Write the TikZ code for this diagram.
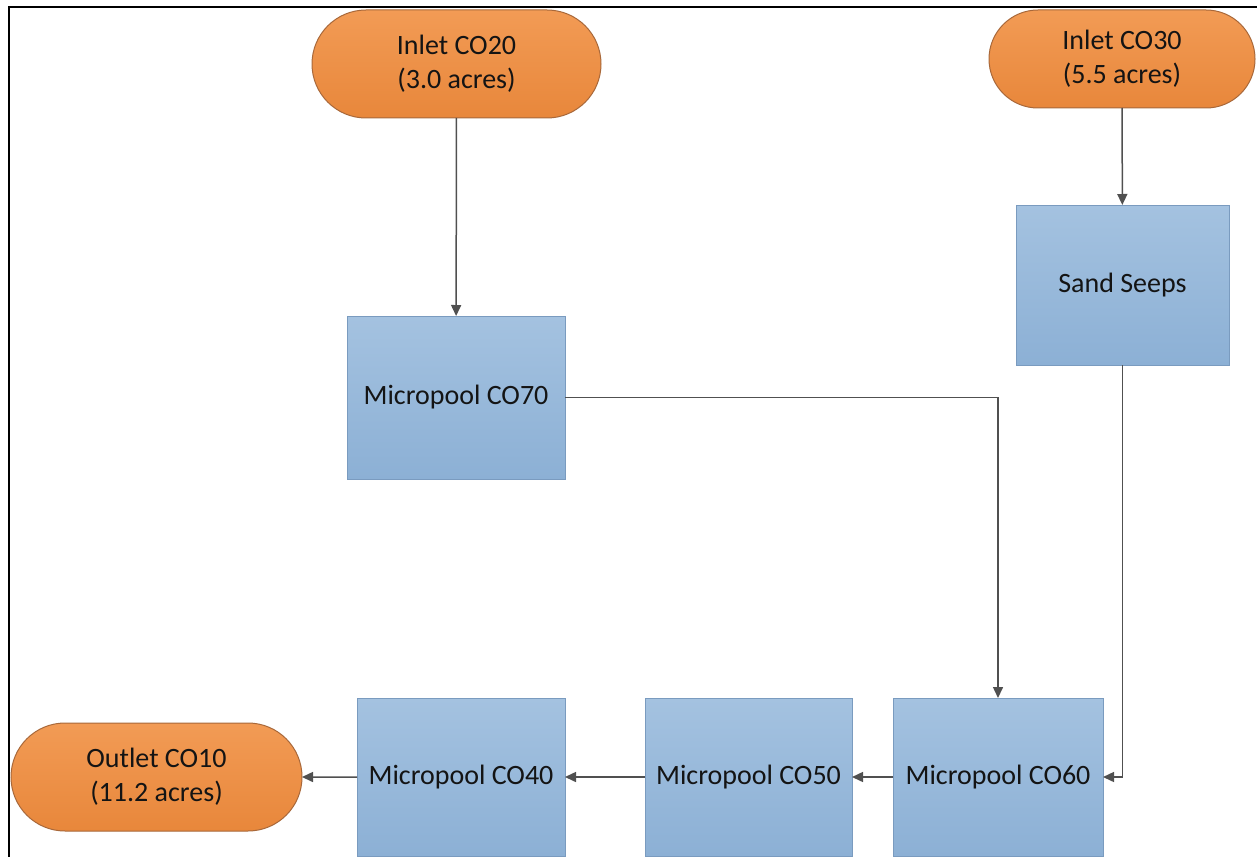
\documentclass[tikz,border=0pt]{standalone}
\usepackage{fontspec}
\setmainfont{Carlito}
\usetikzlibrary{shapes.misc,arrows.meta}
\definecolor{orangetop}{HTML}{F29B55}
\definecolor{orangebot}{HTML}{E8873B}
\definecolor{orangeedge}{HTML}{A8683A}
\definecolor{bluetop}{HTML}{A4C2E0}
\definecolor{bluebot}{HTML}{8CB0D5}
\definecolor{blueedge}{HTML}{7A9BBF}
\definecolor{linkcol}{HTML}{505050}
\definecolor{txt}{HTML}{141414}
\tikzset{
  terminal/.style={rounded rectangle, draw=orangeedge, line width=1pt,
    top color=orangetop, bottom color=orangebot, inner sep=0pt, outer sep=0pt,
    align=center, text=txt, font=\fontsize{28}{34}\selectfont},
  procbox/.style={rectangle, draw=blueedge, line width=1pt,
    top color=bluetop, bottom color=bluebot, inner sep=0pt, outer sep=0pt,
    align=center, text=txt, font=\fontsize{28}{34}\selectfont},
  link/.style={draw=linkcol, line width=1.5pt,
    -{Triangle[length=11pt,width=10pt]}}
}
\begin{document}
\begin{tikzpicture}[x=1pt,y=-1pt]
\useasboundingbox (0,0) rectangle (1257,856);
\draw[line width=2pt, line cap=rect] (8.5,856) -- (8.5,7.5) -- (1257,7.5);

\node[terminal, minimum width=289pt, minimum height=108pt] (in20) at (456.5,64) {Inlet CO20\\(3.0 acres)};
\node[terminal, minimum width=266pt, minimum height=98pt] (in30) at (1122,59) {Inlet CO30\\(5.5 acres)};
\node[terminal, minimum width=291pt, minimum height=108pt] (out10) at (156.5,777) {Outlet CO10\\(11.2 acres)};

\node[procbox, minimum width=213pt, minimum height=160pt] (sand) at (1122.5,285) {Sand Seeps};
\node[procbox, minimum width=218pt, minimum height=163pt] (mp70) at (456,397.5) {Micropool CO70};
\node[procbox, minimum width=208pt, minimum height=158pt] (mp40) at (461,777) {Micropool CO40};
\node[procbox, minimum width=207pt, minimum height=158pt] (mp50) at (748.5,777) {Micropool CO50};
\node[procbox, minimum width=210pt, minimum height=158pt] (mp60) at (998,777) {Micropool CO60};

\draw[link] (in20) -- (mp70);
\draw[link] (in30) -- (sand);
\draw[link] (mp70.east) -| (mp60.north);
\draw[link] (sand.south) |- (mp60.east);
\draw[link] (mp60) -- (mp50);
\draw[link] (mp50) -- (mp40);
\draw[link] (mp40) -- (out10);
\end{tikzpicture}
\end{document}
